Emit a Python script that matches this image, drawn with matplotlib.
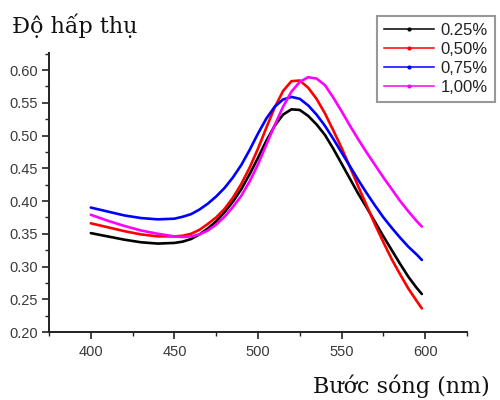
import matplotlib
matplotlib.use("Agg")
import matplotlib.pyplot as plt
from matplotlib.lines import Line2D
from matplotlib.ticker import MultipleLocator

wavelength = [400, 410, 420, 430, 440, 450, 455, 460, 465, 470, 475, 480, 485,
              490, 495, 500, 505, 510, 515, 520, 525, 530, 535, 540, 545, 550,
              555, 560, 565, 570, 575, 580, 585, 590, 595, 598]

abs_025 = [0.351, 0.346, 0.341, 0.337, 0.335, 0.336, 0.338, 0.342, 0.349, 0.358,
           0.369, 0.383, 0.399, 0.418, 0.441, 0.466, 0.492, 0.515, 0.532, 0.540,
           0.539, 0.530, 0.517, 0.501, 0.480, 0.457, 0.434, 0.411, 0.390, 0.368,
           0.346, 0.325, 0.304, 0.284, 0.267, 0.258]
abs_050 = [0.366, 0.360, 0.354, 0.349, 0.346, 0.346, 0.347, 0.350, 0.356, 0.365,
           0.375, 0.388, 0.405, 0.426, 0.451, 0.480, 0.512, 0.543, 0.568, 0.583,
           0.584, 0.573, 0.556, 0.534, 0.508, 0.481, 0.452, 0.422, 0.393, 0.364,
           0.337, 0.311, 0.288, 0.266, 0.247, 0.236]
abs_075 = [0.390, 0.384, 0.378, 0.374, 0.372, 0.373, 0.376, 0.380, 0.387, 0.396,
           0.407, 0.420, 0.436, 0.455, 0.478, 0.503, 0.526, 0.544, 0.555, 0.559,
           0.556, 0.546, 0.532, 0.515, 0.495, 0.474, 0.453, 0.432, 0.412, 0.393,
           0.375, 0.359, 0.344, 0.330, 0.318, 0.310]
abs_100 = [0.379, 0.370, 0.362, 0.355, 0.350, 0.346, 0.345, 0.346, 0.349, 0.355,
           0.364, 0.376, 0.391, 0.408, 0.430, 0.456, 0.486, 0.516, 0.544, 0.567,
           0.582, 0.589, 0.587, 0.577, 0.558, 0.537, 0.515, 0.494, 0.474, 0.455,
           0.436, 0.418, 0.400, 0.384, 0.369, 0.361]

series = [abs_025, abs_050, abs_075, abs_100]
labels = ["0.25%", "0,50%", "0,75%", "1,00%"]
colors = ["#000000", "#ff0000", "#0000ff", "#ff00ff"]

xticks = [400, 450, 500, 550, 600]
yticks = [0.20, 0.25, 0.30, 0.35, 0.40, 0.45, 0.50, 0.55, 0.60]

plt.rcParams['font.family'] = ['Liberation Sans', 'DejaVu Sans']

fig = plt.figure(figsize=(5, 4), dpi=100)
ax = fig.add_axes([0.098, 0.17, 0.836, 0.6975])

for ys, c in zip(series, colors):
    ax.plot(wavelength, ys, color=c, lw=1.9, solid_capstyle='round',
            solid_joinstyle='round')

ax.set_xlim(375, 625)
ax.set_ylim(0.20, 0.626)
ax.set_xticks(xticks)
ax.set_yticks(yticks)
ax.set_yticklabels([f"{v:.2f}" for v in yticks])
ax.xaxis.set_minor_locator(MultipleLocator(25))
ax.yaxis.set_minor_locator(MultipleLocator(0.025))

for s in ['top', 'right']:
    ax.spines[s].set_visible(False)
for s in ['left', 'bottom']:
    ax.spines[s].set_linewidth(1.4)
    ax.spines[s].set_color('#222222')

ax.tick_params(axis='both', which='major', direction='out', length=5, width=1.2,
               labelsize=10.5, labelcolor='#3a3a3a', color='#222222')
ax.tick_params(axis='both', which='minor', direction='out', length=3, width=1.0,
               color='#222222')
ax.tick_params(axis='x', pad=4)
ax.tick_params(axis='y', pad=3)

handles = [Line2D([0], [0], color=c, lw=1.1, marker='.', markersize=4)
           for c in colors]
leg = fig.legend(handles, labels, loc='upper left',
                 bbox_to_anchor=(377 / 500, 1 - 16 / 400),
                 fontsize=12, frameon=True, fancybox=False,
                 handlelength=3.0, handletextpad=0.4, labelspacing=0.24,
                 borderpad=0.42, borderaxespad=0)
leg.get_frame().set_edgecolor('#7f7f7f')
leg.get_frame().set_linewidth(1.5)
for t in leg.get_texts():
    t.set_color('#222222')

fig.text(12 / 500, 1 - 33 / 400, "Độ hấp thụ", family=['DejaVu Serif'],
         fontsize=16, ha='left', va='baseline', color='#111111')
fig.text(490 / 500, 1 - 393 / 400, "Bước sóng (nm)", family=['DejaVu Serif'],
         fontsize=16, ha='right', va='baseline', color='#111111')

fig.savefig("out.png", dpi=100)
